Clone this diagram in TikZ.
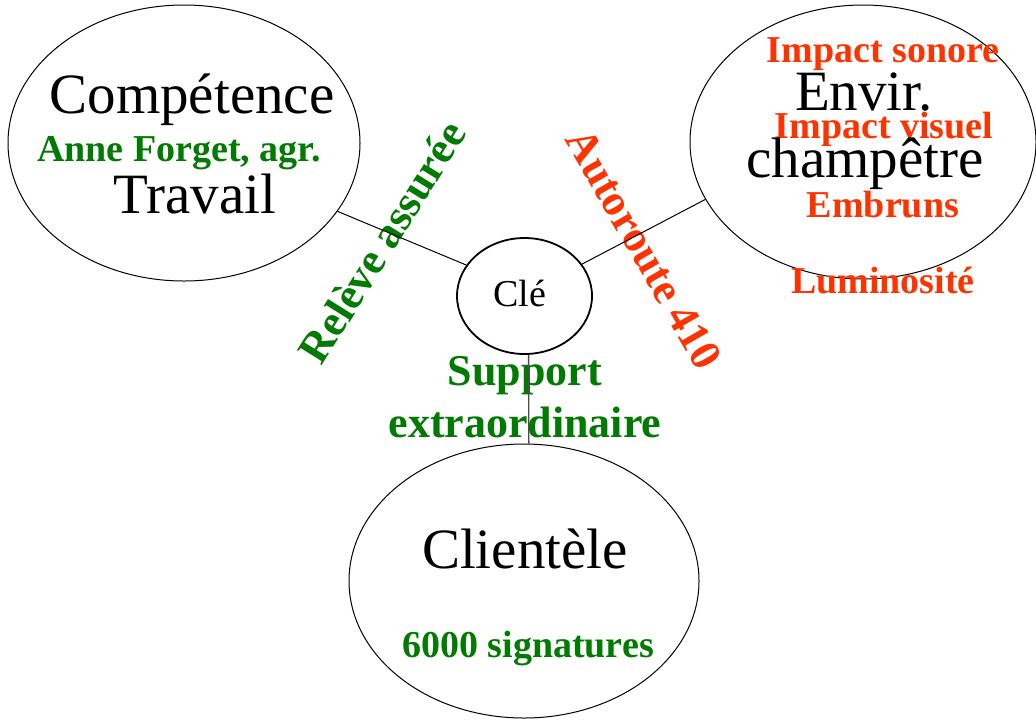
\documentclass[tikz,border=0pt]{standalone}
\usepackage{fontspec}
\setmainfont{Liberation Serif}
\usetikzlibrary{shapes.geometric}
\definecolor{vertf}{RGB}{0,122,0}
\definecolor{rouge}{RGB}{255,51,0}

\begin{document}
\begin{tikzpicture}[x=0.5pt,y=-0.5pt,
  bulle/.style={draw, ellipse, inner sep=0pt, line width=0.5pt},
  gros/.style={font=\fontsize{28.5}{34}\selectfont, anchor=base},
  vert/.style={text=vertf, font=\bfseries\fontsize{19}{23}\selectfont, anchor=base},
  rouge/.style={text=rouge, font=\bfseries\fontsize{19}{23}\selectfont, anchor=base},
  penche/.style={font=\bfseries\fontsize{22}{26}\selectfont}]
\useasboundingbox (0,0) rectangle (1036,719);

% les bulles
\node [bulle, minimum width=176pt, minimum height=138pt] (comp) at (184,143) {};
\node [bulle, minimum width=173pt, minimum height=137pt] (envir) at (863,142) {};
\node [bulle, minimum width=175pt, minimum height=137pt] (client) at (524,581) {};
\node [bulle, line width=0.9pt, minimum width=67.5pt, minimum height=58pt] (cle) at (524.5,296) {};

% textes
\node [gros] (tcomp) at (192,113) {Compétence};
\node [vert] (forget) at (179,161) {Anne Forget, agr.};
\node [gros] (ttrav) at (195,213) {Travail};

\node [rouge] (sonore) at (883,62) {Impact sonore};
\node [gros] (tenvir) at (864,110) {Envir.};
\node [rouge] (visuel) at (884,138) {Impact visuel};
\node [gros] (tchamp) at (865,177) {champêtre};
\node [rouge] (embruns) at (883,217) {Embruns};
\node [rouge] (lumi) at (883,293) {Luminosité};

\node [font=\fontsize{19}{23}\selectfont, anchor=base] (tcle) at (520,306) {Clé};

\node [gros] (tclient) at (525,568) {Clientèle};
\node [vert] (signat) at (528,657) {6000 signatures};

\node [penche, text=vertf, rotate=58] (releve) at (382,242) {Relève assurée};
\node [penche, text=rouge, rotate=-60] (autor) at (644,249) {Autoroute 410};
\node [vert, font=\bfseries\fontsize{22}{26}\selectfont] (supp) at (525,385) {Support};
\node [vert, font=\bfseries\fontsize{22}{26}\selectfont] (extra) at (525,437) {extraordinaire};

% liens
\draw [line width=0.5pt] (cle.152) -- (comp.-24);
\draw [line width=0.5pt] (cle.29) -- (envir.-160);
\draw [line width=0.7pt, black!70] (cle.-86) -- (client.88.5);

\end{tikzpicture}
\end{document}
